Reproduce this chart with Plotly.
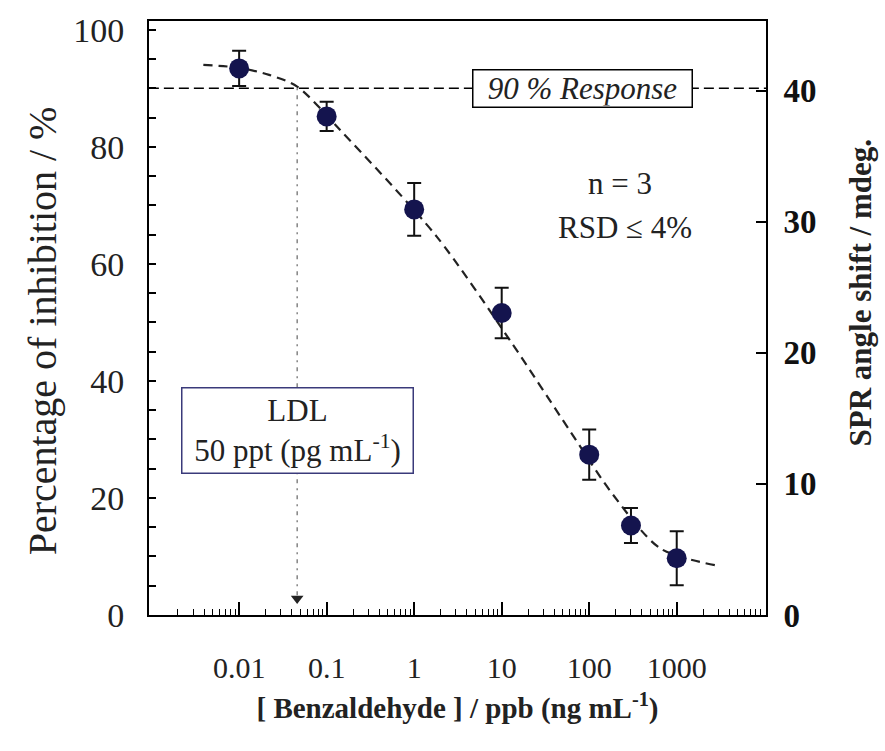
import math
import plotly.graph_objects as go

# ---- data ----
conc = [0.01, 0.1, 1, 10, 100, 300, 1000]              # ppb
inhibition = [93.4, 85.2, 69.3, 51.6, 27.4, 15.3, 9.7]  # %
err = [3.0, 2.5, 4.5, 4.3, 4.3, 3.0, 4.6]

fit_conc = [0.0039, 0.01, 0.022, 0.046, 0.14, 1.8, 12.6, 60, 186, 646, 2750]
fit_inh = [94.0, 93.5, 92.3, 90.3, 83.0, 64.7, 46.8, 31.5, 20.6, 11.4, 8.5]

response_level = 90
ldl_conc = 0.046

x_tickvals = [0.01, 0.1, 1, 10, 100, 1000]
x_ticktext = ["0.01", "0.1", "1", "10", "100", "1000"]
x_minor = [m * 10.0 ** k for k in range(-3, 4) for m in range(2, 10)]

y2_tickvals = [0, 10, 20, 30, 40]

FONT = "Liberation Serif"
TXT = "#222222"
NAVY = "#14144e"

fig = go.Figure()

# 90 % response line
fig.add_trace(go.Scatter(
    x=[0.00093, 10500], y=[response_level, response_level],
    mode="lines", line=dict(color="black", width=1.6, dash="10px,5px"),
    hoverinfo="skip", showlegend=False))

# LDL vertical line
fig.add_trace(go.Scatter(
    x=[ldl_conc, ldl_conc], y=[response_level, 3],
    mode="lines", line=dict(color="#666666", width=1.2, dash="2px,5px,4px,5px"),
    hoverinfo="skip", showlegend=False))
fig.add_trace(go.Scatter(
    x=[ldl_conc], y=[2.8], mode="markers",
    marker=dict(symbol="triangle-down", size=11, color="#222222"),
    hoverinfo="skip", showlegend=False))

# fitted curve
fig.add_trace(go.Scatter(
    x=fit_conc, y=fit_inh, mode="lines",
    line=dict(color="#222222", width=2.2, dash="9px,6px", shape="spline", smoothing=0.8),
    hoverinfo="skip", showlegend=False))

# data points
fig.add_trace(go.Scatter(
    x=conc, y=inhibition, mode="markers",
    marker=dict(size=20, color=NAVY),
    error_y=dict(type="data", array=err, color="#111111", thickness=2, width=7),
    showlegend=False))

# dummy trace for right axis
fig.add_trace(go.Scatter(x=[1], y=[0], yaxis="y2", mode="markers",
                         marker=dict(opacity=0), hoverinfo="skip", showlegend=False))

fig.add_annotation(
    x=1.92, xref="x", y=response_level, yref="y",
    text="<i>90 % Response</i>", showarrow=False,
    font=dict(family=FONT, size=31, color=TXT),
    bgcolor="white", bordercolor="black", borderwidth=1.5,
    width=216, height=34, borderpad=1)

fig.add_annotation(
    x=math.log10(ldl_conc), xref="x", y=31.5, yref="y",
    text="LDL<br>50 ppt (pg mL<sup>-1</sup>)", showarrow=False,
    font=dict(family=FONT, size=31, color=TXT),
    bgcolor="white", bordercolor="#3a3a7a", borderwidth=1.5,
    width=228, height=82, borderpad=1)

fig.add_annotation(x=0.763, y=0.7265, xref="paper", yref="paper",
                   xanchor="center", yanchor="middle",
                   text="n = 3", showarrow=False,
                   font=dict(family=FONT, size=31, color=TXT))
fig.add_annotation(x=0.771, y=0.653, xref="paper", yref="paper",
                   xanchor="center", yanchor="middle",
                   text="RSD ≤ 4%", showarrow=False,
                   font=dict(family=FONT, size=31, color=TXT))

# axis titles
fig.add_annotation(x=-0.173, y=0.478, xref="paper", yref="paper",
                   xanchor="center", yanchor="middle", textangle=-90,
                   text="Percentage of inhibition / %", showarrow=False,
                   font=dict(family=FONT, size=40, color=TXT))
fig.add_annotation(x=1.153, y=0.542, xref="paper", yref="paper",
                   xanchor="center", yanchor="middle", textangle=-90,
                   text="<b>SPR angle shift / mdeg.</b>", showarrow=False,
                   font=dict(family=FONT, size=31, color=TXT))

fig.update_layout(
    width=885, height=751,
    margin=dict(l=149, r=119, t=19, b=136),
    plot_bgcolor="white", paper_bgcolor="white",
    font=dict(family=FONT, color=TXT),
    xaxis=dict(
        type="log", range=[-3.03, 4.02],
        tickvals=x_tickvals, ticktext=x_ticktext,
        ticks="inside", ticklen=13, tickwidth=1.5, tickcolor="black",
        minor=dict(tickvals=x_minor, ticks="inside", ticklen=6, tickwidth=1.2, tickcolor="black"),
        showline=True, linecolor="black", linewidth=2, mirror=True,
        showgrid=False, zeroline=False,
        tickfont=dict(family=FONT, size=30, color=TXT),
        ticklabelstandoff=25,
        title=dict(text="<b>[ Benzaldehyde ] / ppb (ng mL<sup>-1</sup>)</b>",
                   font=dict(family=FONT, size=29, color=TXT), standoff=15)),
    yaxis=dict(
        range=[0, 101.5], dtick=20,
        ticks="inside", ticklen=7, tickwidth=1.5, tickcolor="black",
        minor=dict(dtick=5, ticks="inside", ticklen=7, tickwidth=1.5, tickcolor="black",
                   showgrid=False),
        showline=True, linecolor="black", linewidth=2,
        showgrid=False, zeroline=False,
        tickfont=dict(family=FONT, size=34, color=TXT),
        ticklabelstandoff=16),
    yaxis2=dict(
        overlaying="y", side="right", range=[0, 45.3], tickvals=y2_tickvals,
        ticks="inside", ticklen=10, tickwidth=1.5, tickcolor="black",
        showline=True, linecolor="black", linewidth=2,
        showgrid=False, zeroline=False,
        tickfont=dict(family=FONT, size=33, color="#111111", weight="bold"),
        ticklabelstandoff=9),
)

fig.write_html("out.html")
